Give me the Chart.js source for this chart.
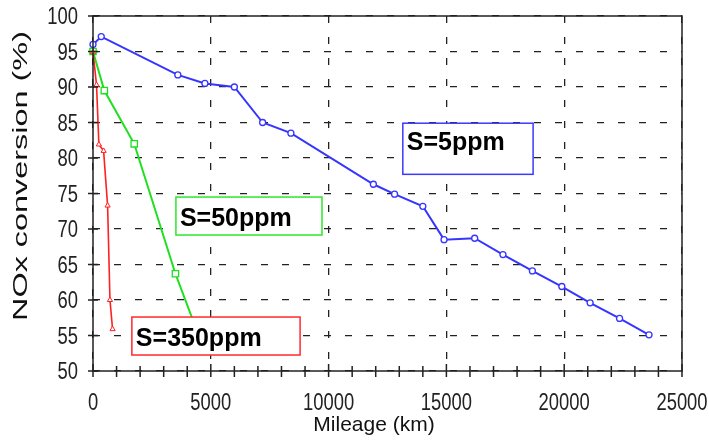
<!DOCTYPE html>
<html>
<head>
<meta charset="utf-8">
<script src="https://cdn.jsdelivr.net/npm/chart.js@4"></script>
<style>
  html, body { margin: 0; padding: 0; background: #fff; }
</style>
</head>
<body>
<canvas id="chart" width="709" height="441"></canvas>
<script>
// mileage (km) and NOx conversion (%) for each sulphur level
const km5ppm = [0, 350, 3600, 4750, 6000, 7200, 8400, 11900, 12800, 14000, 14900, 16200, 17400, 18650, 19900, 21100, 22350, 23600];
const conv5ppm = [96.0, 97.1, 91.7, 90.5, 90.0, 85.0, 83.5, 76.3, 74.9, 73.2, 68.5, 68.7, 66.4, 64.1, 61.9, 59.6, 57.4, 55.1];

const km50ppm = [0, 480, 1750, 3500, 4450];
const conv50ppm = [95.0, 89.5, 82.0, 63.7, 55.3];

const km350ppm = [0, 150, 250, 450, 620, 720, 830];
const conv350ppm = [94.9, 90.3, 81.9, 81.0, 73.3, 60.0, 55.9];

const xTicks = [0, 5000, 10000, 15000, 20000, 25000];
const yTicks = [50, 55, 60, 65, 70, 75, 80, 85, 90, 95, 100];

const seriesNames = ['S=350ppm', 'S=50ppm', 'S=5ppm'];
const xTitle = 'Mileage (km)';
const yTitle = 'NOx conversion (%)';

// label boxes, placed in data units
const notes = [
  { text: 'S=5ppm', x0: 13150, x1: 18680, y0: 84.9, y1: 77.7, color: '#3a3aff', base: 27 },
  { text: 'S=50ppm', x0: 3520, x1: 9720, y0: 74.5, y1: 69.15, color: '#2ee62e', base: 29 },
  { text: 'S=350ppm', x0: 1650, x1: 8790, y0: 57.6, y1: 52.25, color: '#ff2a2a', base: 29 }
];

const toPoints = (xs, ys) => xs.map((v, i) => ({ x: v, y: ys[i] }));

// text drawn squeezed or stretched like the scanned original
function scaledText(ctx, text, px, py, sx, align) {
  ctx.save();
  ctx.translate(px, py);
  ctx.scale(sx, 1);
  ctx.textAlign = align;
  ctx.fillText(text, 0, 0);
  ctx.restore();
}

const frame = {
  id: 'frame',
  afterDatasetsDraw(chart) {
    const { ctx, chartArea: a, scales: { x, y } } = chart;
    ctx.save();

    notes.forEach(n => {
      const l = x.getPixelForValue(n.x0), r = x.getPixelForValue(n.x1);
      const t = y.getPixelForValue(n.y0), b = y.getPixelForValue(n.y1);
      ctx.fillStyle = '#fff';
      ctx.fillRect(l, t, r - l, b - t);
      ctx.strokeStyle = n.color;
      ctx.lineWidth = 1.5;
      ctx.strokeRect(l, t, r - l, b - t);
      ctx.fillStyle = '#000';
      ctx.font = 'bold 25px "Liberation Sans", Arial, sans-serif';
      ctx.textAlign = 'left';
      ctx.textBaseline = 'alphabetic';
      ctx.fillText(n.text, l + 4, t + n.base);
    });

    // box round the plot
    ctx.strokeStyle = '#222';
    ctx.lineWidth = 1.5;
    ctx.strokeRect(a.left, a.top, a.width, a.height);

    // tick marks crossing the axes
    ctx.beginPath();
    for (let v = 0; v <= 25000; v += 1000) {
      const px = x.getPixelForValue(v);
      const major = v % 5000 === 0;
      ctx.moveTo(px, a.bottom - (major ? 7 : 5));
      ctx.lineTo(px, a.bottom + 6);
    }
    yTicks.forEach(v => {
      const py = y.getPixelForValue(v);
      ctx.moveTo(a.left - 5, py);
      ctx.lineTo(a.left + 5, py);
    });
    ctx.stroke();

    // tick labels
    ctx.fillStyle = '#222';
    ctx.font = '23px "Liberation Sans", Arial, sans-serif';
    ctx.textBaseline = 'alphabetic';
    xTicks.forEach(v => scaledText(ctx, String(v), x.getPixelForValue(v), a.bottom + 39, 0.8, 'center'));
    yTicks.forEach(v => scaledText(ctx, String(v), a.left - 15, y.getPixelForValue(v) + 8, 0.8, 'right'));

    // axis titles
    ctx.fillStyle = '#111';
    ctx.font = '21px "Liberation Sans", Arial, sans-serif';
    scaledText(ctx, xTitle, 374, 431, 1, 'center');

    ctx.translate(27, 176);
    ctx.rotate(-Math.PI / 2);
    ctx.font = '20px "Liberation Sans", Arial, sans-serif';
    scaledText(ctx, yTitle, 0, 0, 1.62, 'center');
    ctx.restore();
  }
};

new Chart(document.getElementById('chart'), {
  type: 'scatter',
  data: {
    datasets: [
      {
        label: seriesNames[0],
        data: toPoints(km350ppm, conv350ppm),
        showLine: true,
        borderColor: '#ff2020',
        borderWidth: 1.6,
        pointStyle: 'triangle',
        pointRadius: 3,
        pointBorderWidth: 1,
        pointBackgroundColor: '#fff',
        pointBorderColor: '#ff2020',
        clip: false
      },
      {
        label: seriesNames[1],
        data: toPoints(km50ppm, conv50ppm),
        showLine: true,
        borderColor: '#1fe01f',
        borderWidth: 2,
        pointStyle: 'rect',
        pointRadius: 4.5,
        pointBorderWidth: 1.3,
        pointBackgroundColor: '#fff',
        pointBorderColor: '#1fe01f',
        clip: false
      },
      {
        label: seriesNames[2],
        data: toPoints(km5ppm, conv5ppm),
        showLine: true,
        borderColor: '#3535ff',
        borderWidth: 2,
        pointStyle: 'circle',
        pointRadius: 3,
        pointBorderWidth: 1.3,
        pointBackgroundColor: '#fff',
        pointBorderColor: '#3535ff',
        clip: false
      }
    ]
  },
  options: {
    responsive: false,
    animation: false,
    events: [],
    layout: { padding: { top: 16, right: 27, left: 0, bottom: 0 } },
    plugins: {
      legend: { display: false },
      tooltip: { enabled: false }
    },
    scales: {
      x: {
        type: 'linear',
        min: 0,
        max: 25000,
        afterBuildTicks: s => { s.ticks = xTicks.map(v => ({ value: v })); },
        afterFit: s => { s.height = 70; },
        ticks: { display: false },
        grid: { color: '#222', lineWidth: 1.3, drawTicks: false },
        border: { display: false, dash: [7, 14] }
      },
      y: {
        type: 'linear',
        min: 50,
        max: 100,
        afterBuildTicks: s => { s.ticks = yTicks.map(v => ({ value: v })); },
        afterFit: s => { s.width = 93; },
        ticks: { display: false },
        grid: { color: '#222', lineWidth: 1.3, drawTicks: false },
        border: { display: false, dash: [7, 14] }
      }
    }
  },
  plugins: [frame]
});
</script>
</body>
</html>
